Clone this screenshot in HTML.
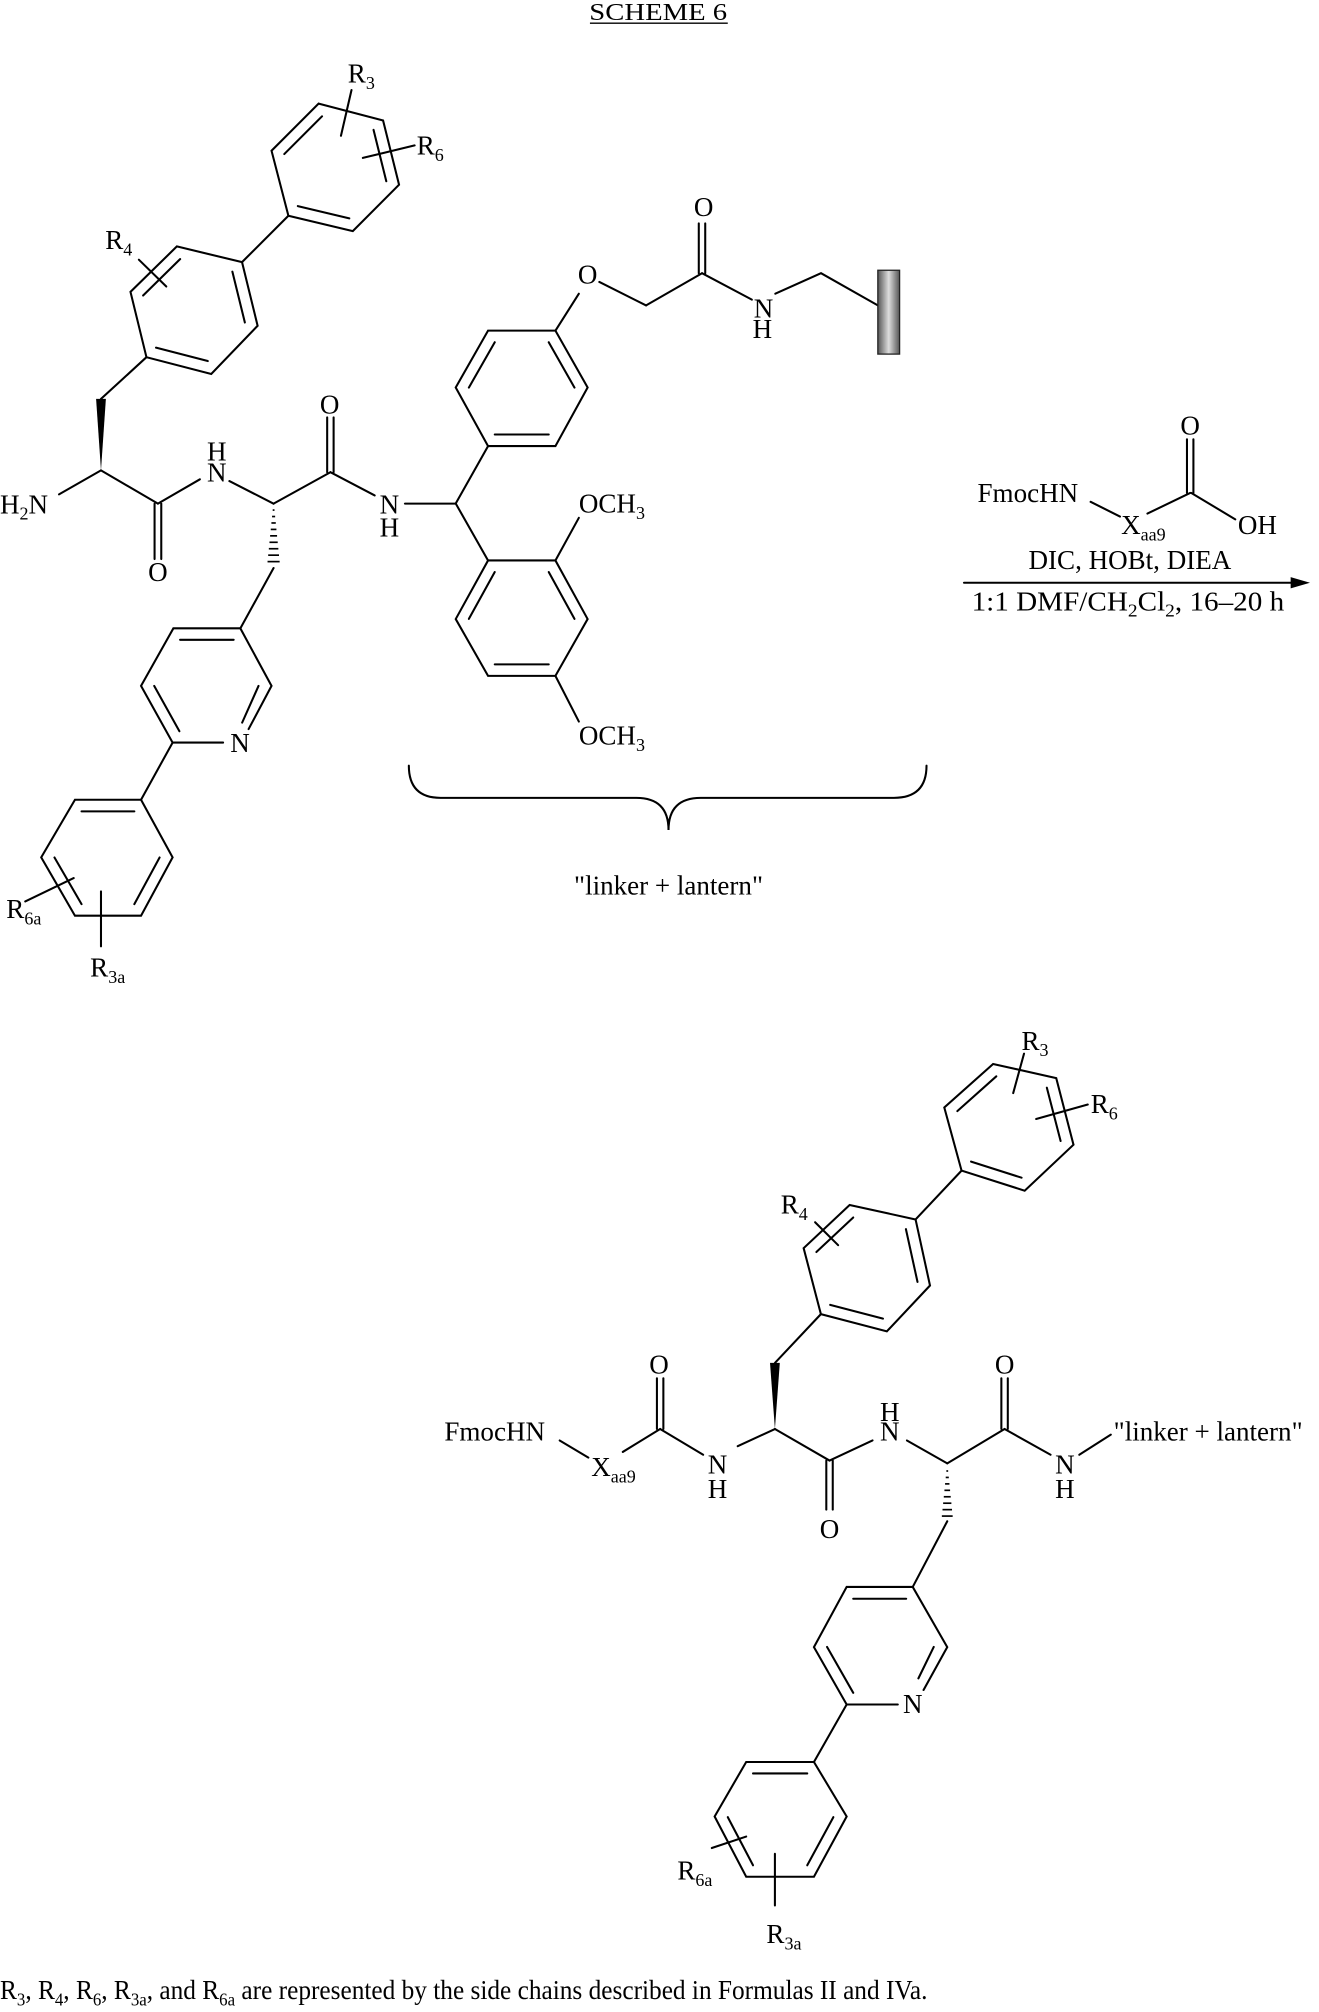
<!DOCTYPE html>
<html><head><meta charset="utf-8"><style>
html,body{margin:0;padding:0;background:#fff;}
svg{display:block;}
text{font-family:"Liberation Serif",serif;font-size:21px;fill:#000;}
.s{font-size:14px;}
</style></head><body>
<svg width="1319" height="2012" viewBox="0 0 1024 1562" xmlns="http://www.w3.org/2000/svg">
<defs>
<linearGradient id="rg" x1="0" x2="1" y1="0" y2="0"><stop offset="0" stop-color="#555"/><stop offset="0.5" stop-color="#ddd"/><stop offset="1" stop-color="#555"/></linearGradient>
</defs>
<text x="511" y="15.5" text-anchor="middle" style="font-size:19px" textLength="107" lengthAdjust="spacingAndGlyphs">SCHEME 6</text>
<line x1="458" y1="18" x2="565" y2="18" stroke="#000" stroke-width="1"/>

<g stroke="#000" stroke-width="1.6" fill="none" stroke-linecap="round">
<polygon points="247.4,80.4 297.4,93.5 309.8,143.4 273.9,179.4 223.9,167.5 210.8,117"/>
<line x1="220.7" y1="119.6" x2="250" y2="90.3"/><line x1="290" y1="100.8" x2="299.9" y2="140.7"/><line x1="231.2" y1="160" x2="271.2" y2="169.5"/>
<line x1="272.9" y1="69.9" x2="264.7" y2="105.4"/><line x1="321.9" y1="112.9" x2="281.7" y2="122.6"/>
<line x1="223.9" y1="167.5" x2="187.9" y2="203.5"/>
<polygon points="187.9,203.5 200,252.9 164,290.3 113.7,277.3 101.3,226.6 137.3,191.3"/>
<line x1="111.1" y1="229.4" x2="139.9" y2="201.1"/><line x1="180.4" y1="210.9" x2="190.1" y2="250.4"/><line x1="121.1" y1="269.9" x2="161.3" y2="280.3"/>
<line x1="107.8" y1="201.6" x2="129.1" y2="222.4"/>
<line x1="113.7" y1="277.3" x2="78.4" y2="309.7"/>
<line x1="78.4" y1="365.2" x2="45.8" y2="383.8"/>
<line x1="78.4" y1="365.2" x2="122.6" y2="391"/>
<line x1="120" y1="391" x2="120" y2="434"/><line x1="125.2" y1="391" x2="125.2" y2="434"/>
<line x1="122.6" y1="391" x2="155.2" y2="372.1"/>
<line x1="178.1" y1="373.5" x2="212.4" y2="391"/>
<line x1="212.4" y1="391" x2="256.5" y2="366.6"/>
<line x1="254" y1="366.6" x2="254" y2="324"/><line x1="259" y1="366.6" x2="259" y2="324"/>
<line x1="256.5" y1="366.6" x2="290.9" y2="384.6"/>
<line x1="314.4" y1="391" x2="353.8" y2="391"/>
<line x1="212.4" y1="441" x2="186.6" y2="487.8"/>
<polyline points="193,566 210.8,532.5 186.6,487.8 134.6,487.8 109.5,532.5 134,576.5 173.2,576.5"/>
<line x1="139.8" y1="496.7" x2="181.4" y2="496.7"/><line x1="119.7" y1="532.5" x2="139.3" y2="567.7"/><line x1="200.7" y1="532.5" x2="188" y2="561"/>
<line x1="134" y1="576.5" x2="109.5" y2="620.9"/>
<polygon points="109.5,620.9 134,665.6 109.5,710.9 58.2,710.9 32,665.6 58.2,620.9"/>
<line x1="63.3" y1="629.9" x2="104.3" y2="629.9"/><line x1="123.9" y1="665.7" x2="104.3" y2="701.9"/><line x1="42.3" y1="665.7" x2="63.3" y2="701.9"/>
<line x1="19.6" y1="699.8" x2="57.2" y2="681.7"/><line x1="78.4" y1="692" x2="78.4" y2="734.7"/>
<line x1="353.8" y1="390.9" x2="378.9" y2="346.3"/>
<polygon points="378.9,346.3 431.2,346.3 456.2,300.8 431.2,256.7 378.9,256.7 353.8,300.8"/>
<line x1="384.1" y1="337.3" x2="426" y2="337.3"/><line x1="446" y1="300.9" x2="426" y2="265.7"/><line x1="384.1" y1="265.7" x2="364" y2="300.9"/>
<line x1="431.2" y1="256.7" x2="449.4" y2="228"/>
<line x1="465.3" y1="218.9" x2="501.6" y2="237.1"/><line x1="501.6" y1="237.1" x2="545" y2="212.1"/>
<line x1="542.5" y1="212.1" x2="542.5" y2="173.4"/><line x1="547.5" y1="212.1" x2="547.5" y2="173.4"/>
<line x1="545" y1="212.1" x2="583.7" y2="232.6"/>
<polyline points="601.9,228 637.4,212.1 681.5,237.1"/>
<line x1="353.8" y1="390.9" x2="378.9" y2="435.1"/>
<polygon points="378.9,435.1 431.2,435.1 456.2,480.6 431.2,524.7 378.9,524.7 353.8,480.6"/>
<line x1="364" y1="480.5" x2="384.1" y2="444.1"/><line x1="426" y1="444.1" x2="446" y2="480.5"/><line x1="426" y1="515.8" x2="384.1" y2="515.8"/>
<line x1="431.2" y1="435.1" x2="449.4" y2="402"/>
<line x1="431.2" y1="524.7" x2="449.4" y2="560.2"/>
<path d="M317.4,594.4 Q317.4,619.4 342,619.4 L494,619.4 Q519,619.4 519,644.4 Q519,619.4 544,619.4 L694,619.4 Q719.3,619.4 719.3,594.4"/>
<line x1="846.7" y1="389.6" x2="869.5" y2="401"/>
<line x1="890.8" y1="398.7" x2="924" y2="382.7"/>
<line x1="921.5" y1="382.7" x2="921.5" y2="341"/><line x1="926.5" y1="382.7" x2="926.5" y2="341"/>
<line x1="924.9" y1="382.7" x2="959" y2="403.2"/>
<line x1="748.4" y1="452.4" x2="1008" y2="452.4"/>
<polygon points="771,826 820,837 833.4,888.7 795.5,924.4 746.5,908.8 733.1,859.8"/>
<line x1="743.2" y1="862.6" x2="773.5" y2="835.6"/><line x1="812.7" y1="844.4" x2="823.4" y2="885.8"/><line x1="753.9" y1="901.8" x2="793.1" y2="914.3"/>
<line x1="795" y1="818" x2="786.6" y2="848.6"/><line x1="844.5" y1="857.5" x2="804.4" y2="868.7"/>
<line x1="746.5" y1="908.8" x2="710.8" y2="946.7"/>
<polygon points="710.8,946.7 722,998 688.5,1033.6 637.3,1020.2 623.9,969 659.6,935.5"/>
<line x1="633.8" y1="972" x2="662.4" y2="945.2"/><line x1="703.3" y1="954.2" x2="712.3" y2="995.2"/><line x1="644.5" y1="1013" x2="685.5" y2="1023.7"/>
<line x1="632.8" y1="948.9" x2="650.7" y2="966.7"/>
<line x1="637.3" y1="1020.2" x2="601.6" y2="1058.1"/>
<line x1="434.5" y1="1118.3" x2="456.8" y2="1131.6"/>
<line x1="483.5" y1="1127.2" x2="512.5" y2="1109.4"/>
<line x1="510" y1="1109.4" x2="510" y2="1070"/><line x1="515" y1="1109.4" x2="515" y2="1070"/>
<line x1="512.5" y1="1109.4" x2="545.9" y2="1129.4"/>
<line x1="572.7" y1="1122.7" x2="601.6" y2="1109.4"/>
<line x1="601.6" y1="1109.4" x2="644" y2="1133.9"/>
<line x1="641.5" y1="1133.9" x2="641.5" y2="1172"/><line x1="646.5" y1="1133.9" x2="646.5" y2="1172"/>
<line x1="644" y1="1133.9" x2="677.4" y2="1118.3"/>
<line x1="704.1" y1="1118.3" x2="735.4" y2="1136.1"/>
<line x1="735.4" y1="1136.1" x2="779.9" y2="1109.4"/>
<line x1="777.4" y1="1109.4" x2="777.4" y2="1070"/><line x1="782.4" y1="1109.4" x2="782.4" y2="1070"/>
<line x1="779.9" y1="1109.4" x2="815.6" y2="1129.4"/>
<line x1="837.9" y1="1129.4" x2="862.4" y2="1113.8"/>
<line x1="735.4" y1="1181" x2="708.6" y2="1232"/>
<polyline points="717,1312 735.4,1278.7 708.6,1232 657.3,1232 631.9,1278.7 657.3,1323.3 697,1323.3"/>
<line x1="662.4" y1="1241.2" x2="703.5" y2="1241.2"/><line x1="642.1" y1="1278.6" x2="662.4" y2="1314.2"/><line x1="724.9" y1="1278.6" x2="713" y2="1303"/>
<line x1="657.3" y1="1323.3" x2="631.9" y2="1367.9"/>
<polygon points="631.9,1367.9 657.3,1410.2 631.9,1457 579.3,1457 554.8,1410.2 579.3,1367.9"/>
<line x1="584.6" y1="1376.8" x2="626.7" y2="1376.8"/><line x1="647" y1="1410.7" x2="626.7" y2="1448.1"/><line x1="565" y1="1410.7" x2="584.6" y2="1448.1"/>
<line x1="552.6" y1="1434.7" x2="579.3" y2="1425.8"/><line x1="601.6" y1="1439.2" x2="601.6" y2="1479.3"/>
</g>
<polygon points="74.6,309.7 82.2,309.7 78.4,365.2" fill="#000"/>
<polygon points="597.8,1058.1 605.4,1058.1 601.6,1109.4" fill="#000"/>
<g stroke="#000" stroke-width="1.3">
<line x1="211.7" y1="396" x2="213.1" y2="396"/><line x1="211.2" y1="401" x2="213.6" y2="401"/><line x1="210.7" y1="406" x2="214.1" y2="406"/><line x1="210.2" y1="411" x2="214.6" y2="411"/><line x1="209.7" y1="416" x2="215.1" y2="416"/><line x1="209.2" y1="421" x2="215.6" y2="421"/><line x1="208.7" y1="426" x2="216.1" y2="426"/><line x1="208.2" y1="431" x2="216.6" y2="431"/><line x1="207.7" y1="436" x2="217.1" y2="436"/>
<line x1="734.7" y1="1142" x2="736.1" y2="1142"/><line x1="734.2" y1="1147" x2="736.6" y2="1147"/><line x1="733.7" y1="1152" x2="737.1" y2="1152"/><line x1="733.2" y1="1157" x2="737.6" y2="1157"/><line x1="732.7" y1="1162" x2="738.1" y2="1162"/><line x1="732.2" y1="1167" x2="738.6" y2="1167"/><line x1="731.7" y1="1172" x2="739.1" y2="1172"/><line x1="731.2" y1="1177" x2="739.6" y2="1177"/>
</g>
<polygon points="1017,452.4 1002,448 1002,456.8" fill="#000"/>
<rect x="681.5" y="209.8" width="16.9" height="65.1" fill="url(#rg)" stroke="#222" stroke-width="1"/>

<text x="270" y="64">R<tspan class="s" dy="5">3</tspan></text>
<text x="323.5" y="120">R<tspan class="s" dy="5">6</tspan></text>
<text x="81.7" y="193.3">R<tspan class="s" dy="5">4</tspan></text>
<text x="0" y="398.5">H<tspan class="s" dy="5">2</tspan><tspan dy="-5">N</tspan></text>
<text x="122.6" y="451" text-anchor="middle">O</text>
<text x="168.3" y="357.5" text-anchor="middle">H</text>
<text x="168.3" y="374" text-anchor="middle">N</text>
<text x="255.9" y="321" text-anchor="middle">O</text>
<text x="302.3" y="398.5" text-anchor="middle">N</text>
<text x="302.3" y="416.6" text-anchor="middle">H</text>
<text x="449.4" y="398">OCH<tspan class="s" dy="5">3</tspan></text>
<text x="449.4" y="578">OCH<tspan class="s" dy="5">3</tspan></text>
<text x="456.2" y="220" text-anchor="middle">O</text>
<text x="546.3" y="167.6" text-anchor="middle">O</text>
<text x="592.8" y="246.4" text-anchor="middle">N</text>
<text x="591.9" y="262.3" text-anchor="middle">H</text>
<text x="186.3" y="584" text-anchor="middle">N</text>
<text x="4.9" y="712.7">R<tspan class="s" dy="5">6a</tspan></text>
<text x="70" y="758">R<tspan class="s" dy="5">3a</tspan></text>
<text x="519" y="694.5" text-anchor="middle">"linker + lantern"</text>
<text x="758.9" y="389.6">FmocHN</text>
<text x="870.4" y="414.6">X<tspan class="s" dy="5">aa9</tspan></text>
<text x="924" y="337.5" text-anchor="middle">O</text>
<text x="961" y="414.6">OH</text>
<text x="877.2" y="441.9" text-anchor="middle">DIC, HOBt, DIEA</text>
<text x="754.3" y="473.8" textLength="242.7" lengthAdjust="spacingAndGlyphs">1:1 DMF/CH<tspan class="s" dy="5">2</tspan><tspan dy="-5">Cl</tspan><tspan class="s" dy="5">2</tspan><tspan dy="-5">, 16–20 h</tspan></text>
<text x="793" y="815">R<tspan class="s" dy="5">3</tspan></text>
<text x="846.8" y="864.2">R<tspan class="s" dy="5">6</tspan></text>
<text x="606.1" y="942.2">R<tspan class="s" dy="5">4</tspan></text>
<text x="345" y="1118.3">FmocHN</text>
<text x="459" y="1146">X<tspan class="s" dy="5">aa9</tspan></text>
<text x="511.6" y="1066.5" text-anchor="middle">O</text>
<text x="557" y="1144" text-anchor="middle">N</text>
<text x="557" y="1163" text-anchor="middle">H</text>
<text x="644" y="1194" text-anchor="middle">O</text>
<text x="690.8" y="1103" text-anchor="middle">H</text>
<text x="690.8" y="1118.5" text-anchor="middle">N</text>
<text x="779.9" y="1066.5" text-anchor="middle">O</text>
<text x="826.7" y="1144" text-anchor="middle">N</text>
<text x="826.7" y="1163" text-anchor="middle">H</text>
<text x="864.6" y="1118.3">"linker + lantern"</text>
<text x="708.6" y="1330" text-anchor="middle">N</text>
<text x="525.9" y="1459.2">R<tspan class="s" dy="5">6a</tspan></text>
<text x="595" y="1508.3">R<tspan class="s" dy="5">3a</tspan></text>
<text x="0" y="1552" textLength="720" lengthAdjust="spacingAndGlyphs">R<tspan class="s" dy="5">3</tspan><tspan dy="-5">, R</tspan><tspan class="s" dy="5">4</tspan><tspan dy="-5">, R</tspan><tspan class="s" dy="5">6</tspan><tspan dy="-5">, R</tspan><tspan class="s" dy="5">3a</tspan><tspan dy="-5">, and R</tspan><tspan class="s" dy="5">6a</tspan><tspan dy="-5"> are represented by the side chains described in Formulas II and IVa.</tspan></text>
</svg>
</body></html>
